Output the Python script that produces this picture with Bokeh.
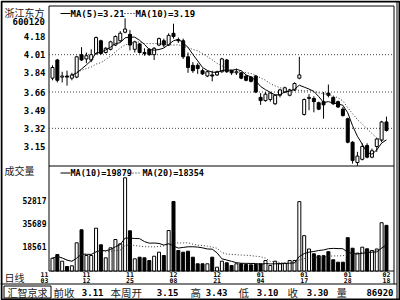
import pandas as pd
from bokeh.plotting import figure
from bokeh.models import Range1d, ColumnDataSource
from bokeh.core.properties import value
from bokeh.embed import file_html
from bokeh.resources import INLINE

# ---------------- data ----------------
opens = [3.79, 3.96, 3.80, 3.81, 3.79, 3.80, 4.01, 3.97, 3.96, 4.02,
         4.14, 4.03, 4.06, 4.10, 4.14, 4.22, 4.20, 4.06, 4.11, 4.03,
         4.06, 4.01, 4.10, 4.14, 4.10, 4.21, 4.15, 4.14, 3.99, 3.91,
         3.91, 3.86, 3.81, 3.82, 3.82, 3.85, 3.96, 3.86, 3.84, 3.84,
         3.81, 3.80, 3.81, 3.61, 3.58, 3.59, 3.55, 3.63, 3.66, 3.63,
         3.68, 3.79, 3.45, 3.60, 3.60, 3.56, 3.57, 3.65, 3.61, 3.57,
         3.50, 3.41, 3.19, 3.00, 3.03, 3.16, 3.05, 3.15, 3.21, 3.38]
closes = [3.89, 3.77, 3.81, 3.80, 3.82, 3.99, 3.96, 4.00, 4.01, 4.17,
          4.02, 4.07, 4.13, 4.18, 4.21, 4.25, 4.10, 4.13, 4.03, 4.02,
          4.01, 4.07, 4.16, 4.10, 4.19, 4.18, 4.14, 3.99, 3.89, 3.86,
          3.88, 3.83, 3.85, 3.81, 3.85, 3.97, 3.85, 3.84, 3.85, 3.79,
          3.77, 3.76, 3.66, 3.58, 3.64, 3.65, 3.63, 3.68, 3.70, 3.68,
          3.74, 3.82, 3.59, 3.61, 3.57, 3.50, 3.54, 3.63, 3.55, 3.52,
          3.44, 3.19, 3.02, 3.06, 3.15, 3.05, 3.11, 3.22, 3.38, 3.30]
highs = [3.91, 3.97, 3.85, 3.86, 3.84, 4.00, 4.08, 4.03, 4.06, 4.18,
         4.15, 4.08, 4.14, 4.19, 4.23, 4.35, 4.24, 4.14, 4.12, 4.07,
         4.07, 4.08, 4.17, 4.16, 4.21, 4.30, 4.17, 4.16, 4.03, 3.94,
         3.93, 3.88, 3.86, 3.86, 3.86, 3.98, 3.97, 3.87, 3.88, 3.85,
         3.82, 3.81, 3.82, 3.65, 3.66, 3.66, 3.64, 3.69, 3.71, 3.69,
         3.75, 3.99, 3.60, 3.64, 3.62, 3.57, 3.66, 3.73, 3.62, 3.58,
         3.52, 3.42, 3.20, 3.10, 3.18, 3.18, 3.13, 3.23, 3.39, 3.43]
lows = [3.77, 3.75, 3.75, 3.72, 3.77, 3.79, 3.95, 3.93, 3.94, 4.01,
        4.01, 4.02, 4.05, 4.09, 4.13, 4.21, 4.05, 4.03, 4.02, 4.00,
        4.00, 3.96, 4.09, 4.08, 4.09, 4.16, 4.12, 3.97, 3.84, 3.84,
        3.83, 3.82, 3.80, 3.76, 3.81, 3.84, 3.84, 3.82, 3.82, 3.78,
        3.76, 3.75, 3.65, 3.54, 3.57, 3.57, 3.54, 3.61, 3.65, 3.62,
        3.67, 3.78, 3.44, 3.49, 3.47, 3.49, 3.41, 3.61, 3.54, 3.51,
        3.43, 3.18, 2.99, 2.97, 3.02, 3.04, 3.04, 3.10, 3.19, 3.29]
volumes = [9590, 12370, 7350, 3370, 3900, 21140, 30880, 11620, 11620, 32080,
           19640, 9890, 17390, 23610, 20390, 69860, 30130, 9150, 10340, 9890,
           7870, 11090, 14090, 11620, 30360, 52100, 15370, 14090, 14840, 10340,
           5400, 5400, 5400, 10340, 2850, 7350, 6150, 4120, 5400, 5400,
           4870, 4650, 4870, 5400, 7870, 4120, 7350, 5400, 5850, 7870,
           7870, 52000, 26500, 16500, 12890, 11500, 11500, 14500, 8400, 6600,
           6600, 25000, 17080, 13340, 17840, 16640, 15370, 16500, 36200, 34220]

price_ticks = [4.18, 4.01, 3.84, 3.66, 3.49, 3.32, 3.15]
price_tick_labels = ["4.18", "4.01", "3.84", "3.66", "3.49", "3.32", "3.15"]
price_grid = [4.01, 3.66, 3.32]
vol_ticks = [52817, 35689, 18561]
vol_tick_labels = ["52817", "35689", "18561"]
date_index = [0, 7, 16, 25, 34, 43, 52, 61, 69]
date_month = ["11", "11", "11", "12", "12", "01", "01", "01", "02"]
date_day = ["03", "12", "25", "08", "21", "04", "17", "28", "18"]

stock_name = "浙江东方"
stock_code = "600120"
ma_price_labels = ["MA(5)=3.21", "MA(10)=3.19"]
ma_vol_labels = ["MA(10)=19879", "MA(20)=18354"]
footer_words = ["前收", "本周开", "高", "低", "收", "量"]
footer_values = ["3.11", "3.15", "3.43", "3.10", "3.30", "86920"]

# ---------------- derived ----------------
n = len(closes)
idx = list(range(n))
up = [c >= o for o, c in zip(opens, closes)]
src = ColumnDataSource(dict(
    x=idx, h=highs, l=lows,
    top=[max(o, c) for o, c in zip(opens, closes)],
    bot=[min(o, c) for o, c in zip(opens, closes)],
    vol=volumes,
    fill=["white" if u else "black" for u in up],
))
ma5 = pd.Series(closes).rolling(5).mean()
ma10 = pd.Series(closes).rolling(10, min_periods=5).mean()
vma10 = pd.Series(volumes).rolling(10, min_periods=1).mean()
vma20 = pd.Series(volumes).rolling(20, min_periods=1).mean()

MONO = value("DejaVu Sans Mono")
CJK = value("Noto Sans CJK SC")

p = figure(width=400, height=300,
           x_range=Range1d(-10.7438, 71.9008), y_range=Range1d(1.7081, 4.5171),
           x_axis_type=None, y_axis_type=None,
           output_backend="svg", toolbar_location=None, min_border=0,
           outline_line_color=None)
p.grid.visible = False
p.background_fill_color = "white"
p.border_fill_color = "white"
p.extra_y_ranges = {"vol": Range1d(-22113, 202767), "py": Range1d(300, 0)}
p.extra_x_ranges = {"px": Range1d(0, 400)}

PX = dict(x_range_name="px", y_range_name="py")

# ---------------- frame / borders ----------------
p.quad(left=1, right=399, top=1, bottom=299, fill_color=None,
       line_color="black", line_width=2, **PX)
p.segment(x0=[48.5, 393.5, 396.5, 48.5, 48.5, 48.5, 0],
          x1=[48.5, 393.5, 396.5, 393.5, 393.5, 393.5, 396.5],
          y0=[5.5, 5.5, 1, 5.5, 165.5, 270.5, 283.5],
          y1=[270.5, 283.5, 299, 5.5, 165.5, 270.5, 283.5],
          line_color="black", line_width=1, **PX)
p.quad(left=3.5, right=50.5, top=285.5, bottom=297.5, fill_color=None,
       line_color="black", line_width=1, **PX)

# grid lines (dotted)
p.segment(x0=48.5, x1=393.5, y0=price_grid, y1=price_grid,
          line_color="#444444", line_width=1, line_dash="1 2", x_range_name="px")

# ---------------- candles ----------------
p.segment(x0="x", x1="x", y0="l", y1="h", source=src, line_color="black", line_width=1)
p.vbar(x="x", width=0.62, top="top", bottom="bot", source=src,
       fill_color="fill", line_color="black", line_width=1)
p.line(idx, ma5, line_color="black", line_width=1)
p.line(idx, ma10, line_color="#333333", line_width=1, line_dash="1 2")

# ---------------- volume ----------------
p.vbar(x="x", width=0.62, top="vol", bottom=0, source=src,
       fill_color="fill", line_color="black", line_width=1, y_range_name="vol")
p.line(idx, vma10, line_color="black", line_width=1, y_range_name="vol")
p.line(idx, vma20, line_color="#333333", line_width=1, line_dash="1 2", y_range_name="vol")

# ---------------- texts ----------------
p.text(x=[4], y=[12], text=[stock_name], text_font=CJK, text_font_size="10px",
       text_color="#222222", text_baseline="middle", **PX)
p.text(x=[12], y=[21], text=[stock_code], text_font=MONO, text_font_style="bold",
       text_font_size="9px", text_baseline="middle", **PX)
p.text(x=[45] * len(price_ticks), y=price_ticks, text=price_tick_labels,
       text_font=MONO, text_font_style="bold", text_font_size="9px",
       text_align="right", text_baseline="middle", x_range_name="px")
p.text(x=[46] * len(vol_ticks), y=vol_ticks, text=vol_tick_labels,
       text_font=MONO, text_font_style="bold", text_font_size="8px",
       text_align="right", text_baseline="middle", x_range_name="px", y_range_name="vol")
p.text(x=[4], y=[170], text=["成交量"], text_font=CJK, text_font_size="10px",
       text_color="#222222", text_baseline="middle", **PX)
p.text(x=[4], y=[276.5], text=["日线"], text_font=CJK, text_font_size="10px",
       text_color="#222222", text_baseline="middle", **PX)

# legends: solid sample for first, dotted sample for second
p.segment(x0=[60, 60], x1=[70, 70], y0=[13, 172.5], y1=[13, 172.5],
          line_color="black", line_width=1, **PX)
p.segment(x0=[124, 129], x1=[134, 141], y0=[13, 172.5], y1=[13, 172.5],
          line_color="black", line_width=1, line_dash="1 2", **PX)
p.text(x=[70, 135], y=[13, 13], text=ma_price_labels, text_font=MONO,
       text_font_style="bold", text_font_size="9px", text_baseline="middle", **PX)
p.text(x=[70, 142], y=[172.5, 172.5], text=ma_vol_labels, text_font=MONO,
       text_font_style="bold", text_font_size="8.5px", text_baseline="middle", **PX)

# date labels
date_off = [-8] + [0] * (len(date_index) - 1)
p.text(x=date_index, y=[273.5] * len(date_index), text=date_month, x_offset=date_off,
       text_font=MONO, text_font_style="bold", text_font_size="6.5px",
       text_align="center", text_baseline="middle", y_range_name="py")
p.text(x=date_index, y=[279.5] * len(date_index), text=date_day, x_offset=date_off,
       text_font=MONO, text_font_style="bold", text_font_size="6.5px",
       text_align="center", text_baseline="middle", y_range_name="py")

# footer
p.text(x=[27], y=[291.5], text=["汇智京求"], text_font=CJK, text_font_size="10px",
       text_color="#222222", text_align="center", text_baseline="middle", **PX)
p.text(x=[53, 110, 190, 238, 287, 336], y=[291.5] * 6, text=footer_words,
       text_font=CJK, text_font_size="10.5px", text_color="#222222",
       text_baseline="middle", **PX)
p.text(x=[103, 178, 227, 278, 328, 393], y=[291.5] * 6, text=footer_values,
       text_font=MONO, text_font_style="bold", text_font_size="9px",
       text_align="right", text_baseline="middle", **PX)

open("out.html", "w").write(file_html(p, INLINE))
